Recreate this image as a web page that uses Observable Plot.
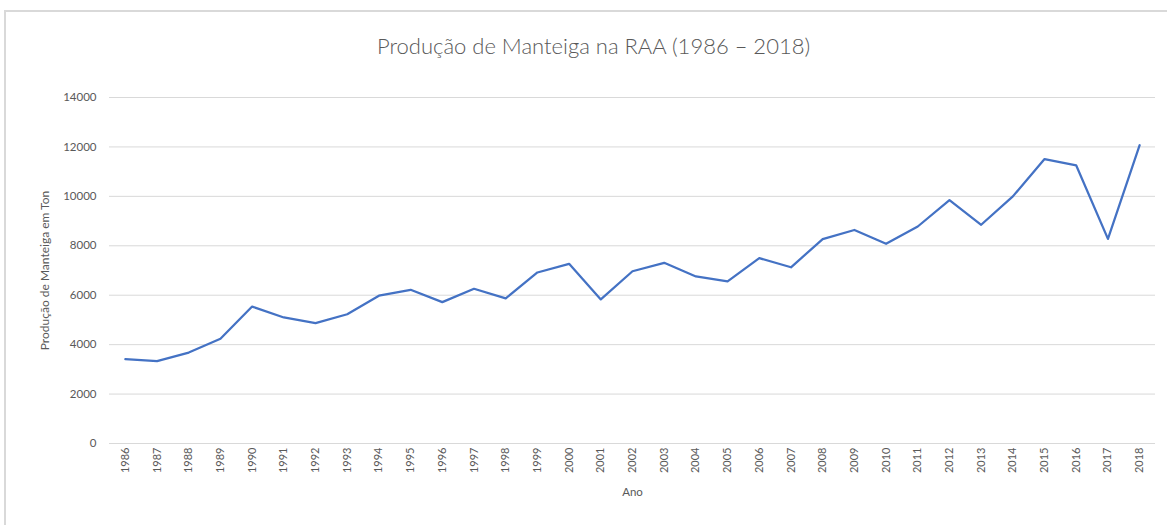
<!DOCTYPE html>
<html>
<head>
<meta charset="utf-8">
<script src="https://cdn.jsdelivr.net/npm/d3@7"></script>
<script src="https://cdn.jsdelivr.net/npm/@observablehq/plot@0.6"></script>
<style>
  html, body { margin: 0; padding: 0; background: #fff; }
  #wrap { position: relative; width: 1167px; height: 525px; overflow: hidden; }
  #frame { position: absolute; left: 4px; top: 10px; width: 1200px; height: 600px;
           border: 2px solid #d9d9d9; box-sizing: border-box; pointer-events: none; }
  #chart { position: absolute; left: 0; top: 0; }
</style>
</head>
<body>
<div id="wrap"><div id="chart"></div><div id="frame"></div></div>
<script>
const years = ["1986","1987","1988","1989","1990","1991","1992","1993","1994","1995","1996","1997","1998","1999","2000","2001","2002","2003","2004","2005","2006","2007","2008","2009","2010","2011","2012","2013","2014","2015","2016","2017","2018"];
const production = [3410, 3330, 3680, 4240, 5540, 5100, 4870, 5230, 5980, 6220, 5720, 6260, 5870, 6920, 7270, 5830, 6970, 7310, 6760, 6560, 7500, 7130, 8270, 8640, 8080, 8780, 9850, 8850, 10000, 11510, 11250, 8280, 12070];
const yTicks = [0, 2000, 4000, 6000, 8000, 10000, 12000, 14000];
const title = "Produção de Manteiga na RAA (1986 – 2018)";
const yLabel = "Produção de Manteiga em Ton";
const xLabel = "Ano";

const data = years.map((y, i) => ({year: y, value: production[i]}));
const font = "Lato, 'Open Sans', sans-serif";
const textColor = "#595959";

const chart = Plot.plot({
  width: 1167,
  height: 525,
  marginLeft: 109,
  marginRight: 12,
  marginTop: 97,
  marginBottom: 82,
  style: { fontFamily: font, color: textColor, background: "transparent" },
  x: { type: "point", domain: years, padding: 0.5, round: false },
  y: { domain: [0, 14000], range: [443, 97] },
  marks: [
    Plot.gridY(yTicks, { stroke: "#d9d9d9", strokeOpacity: 1, strokeWidth: 1 }),
    Plot.axisY(yTicks, { tickSize: 0, tickPadding: 13, fontSize: 11.5, fill: textColor, label: null, tickFormat: d => String(d) }),
    Plot.axisX({ tickSize: 0, tickPadding: 4, tickRotate: -90, fontSize: 11, fill: textColor, label: null }),
    Plot.line(data, { x: "year", y: "value", stroke: "#4472C4", strokeWidth: 2.25, strokeLinejoin: "round" }),
    Plot.text([title], { frameAnchor: "top", lineAnchor: "middle", dy: -51, dx: -39, fontSize: 22, fill: textColor, fontWeight: 300 }),
    Plot.text([yLabel], { frameAnchor: "left", textAnchor: "middle", lineAnchor: "middle", rotate: -90, dx: -64, fontSize: 12, fill: textColor }),
    Plot.text([xLabel], { frameAnchor: "bottom", lineAnchor: "middle", dy: 49, fontSize: 11.5, fill: textColor })
  ]
});
document.getElementById("chart").appendChild(chart);
</script>
</body>
</html>
